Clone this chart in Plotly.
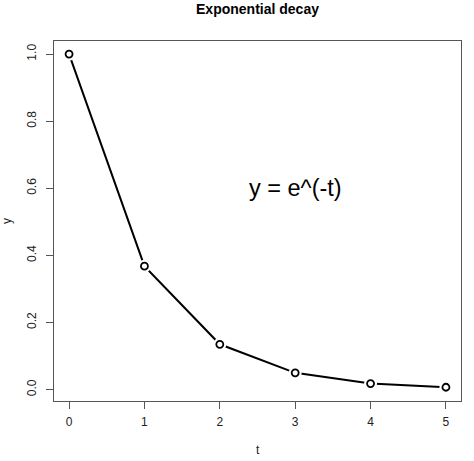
import plotly.graph_objects as go

# data
t = [0, 1, 2, 3, 4, 5]
y = [1.0, 0.368, 0.135, 0.050, 0.018, 0.007]
x_ticks = [0, 1, 2, 3, 4, 5]
y_ticks = [0.0, 0.2, 0.4, 0.6, 0.8, 1.0]
y_tick_labels = ["0.0", "0.2", "0.4", "0.6", "0.8", "1.0"]

FONT = "Liberation Sans, Arial, Helvetica, sans-serif"

fig = go.Figure()

# connecting line
fig.add_trace(go.Scatter(
    x=t, y=y, mode="lines",
    line=dict(color="black", width=2),
    hoverinfo="skip", showlegend=False,
))
# white halo so the line stops short of each point (like R type="b")
fig.add_trace(go.Scatter(
    x=t, y=y, mode="markers",
    marker=dict(symbol="circle", size=13, color="white", line=dict(width=0)),
    hoverinfo="skip", showlegend=False,
))
# open circles
fig.add_trace(go.Scatter(
    x=t, y=y, mode="markers",
    marker=dict(symbol="circle", size=7, color="white",
                line=dict(color="black", width=1.8)),
    showlegend=False,
))

fig.update_layout(
    width=474, height=461,
    margin=dict(l=54, r=13, t=41, b=60),
    paper_bgcolor="white", plot_bgcolor="white",
    font=dict(family=FONT, color="#222", size=12),
    showlegend=False,
    title=dict(text="<b>Exponential decay</b>", x=0.5, xref="paper",
               y=1, yref="container", yanchor="top", pad=dict(t=4),
               font=dict(size=14, color="black", family=FONT)),
    annotations=[
        dict(x=3, y=0.6, xref="x", yref="y", text="y = e^(-t)", showarrow=False,
             font=dict(size=23.5, color="black", family=FONT)),
        dict(x=0.5, y=0, xref="paper", yref="paper", text="t", showarrow=False,
             yanchor="middle", yshift=-49, font=dict(size=12, color="#222")),
        dict(x=0, y=0.5, xref="paper", yref="paper", text="y", showarrow=False,
             xanchor="center", xshift=-47, textangle=-90,
             font=dict(size=12, color="#222")),
    ],
)

fig.update_xaxes(
    range=[-0.2, 5.2], tickvals=x_ticks,
    showgrid=False, zeroline=False,
    showline=True, linecolor="#555", linewidth=1.3, mirror=True,
    ticks="outside", ticklen=7, tickcolor="#555", tickwidth=1.2,
    ticklabelstandoff=2,
    tickfont=dict(size=12, color="#222"),
)
fig.update_yaxes(
    range=[-0.034, 1.039], tickvals=y_ticks, ticktext=y_tick_labels,
    tickangle=-90,
    showgrid=False, zeroline=False,
    showline=True, linecolor="#555", linewidth=1.3, mirror=True,
    ticks="outside", ticklen=7, tickcolor="#555", tickwidth=1.2,
    ticklabelstandoff=5,
    tickfont=dict(size=12, color="#222"),
)

# drop the page's default body margin so the figure sits at the window's corner
fig.write_html(
    "out.html",
    config={"displayModeBar": False},
    post_script="document.body.style.margin='0';document.body.style.overflow='hidden';",
)
